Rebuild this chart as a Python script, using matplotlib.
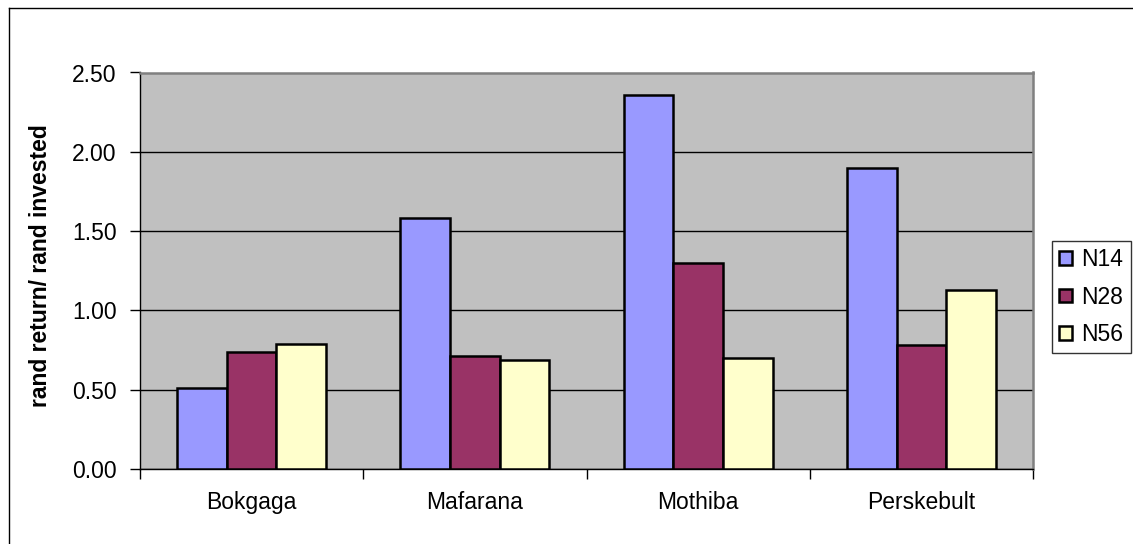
import matplotlib
matplotlib.use("Agg")
import matplotlib.pyplot as plt
import numpy as np
from matplotlib.lines import Line2D
from matplotlib.ticker import FormatStrFormatter

plt.rcParams['font.family'] = ['Liberation Sans', 'DejaVu Sans']

categories = ["Bokgaga", "Mafarana", "Mothiba", "Perskebult"]
series_names = ["N14", "N28", "N56"]
n14 = [0.51, 1.58, 2.36, 1.90]
n28 = [0.74, 0.71, 1.30, 0.78]
n56 = [0.79, 0.69, 0.70, 1.13]
colors = ["#9999FF", "#993366", "#FFFFCC"]
ylabel = "rand return/ rand invested"

W, H = 1133, 544
fig = plt.figure(figsize=(W / 100, H / 100), dpi=100)
ax = fig.add_axes([140 / W, 1 - 469 / H, (1033 - 140) / W, (469 - 72.5) / H])
ax.set_facecolor("#C0C0C0")

x = np.arange(len(categories))
w = 1 / 4.5
for i, (vals, name, c) in enumerate(zip([n14, n28, n56], series_names, colors)):
    ax.bar(x + (i - 1) * w, vals, width=w, color=c, edgecolor="black",
           linewidth=1.8, label=name, zorder=3)

ax.set_xlim(-0.5, len(categories) - 0.5)
ax.set_ylim(0, 2.5)
ax.set_yticks(np.arange(0, 2.51, 0.5))
ax.yaxis.set_major_formatter(FormatStrFormatter("%.2f"))
ax.yaxis.grid(True, color="black", linewidth=1.0, zorder=1)
ax.set_axisbelow(True)

ax.set_xticks(x)
ax.set_xticklabels(categories)
ax.set_xticks(np.arange(-0.5, len(categories)), minor=True)
ax.tick_params(axis="x", which="major", length=0, pad=16, labelsize=16.5)
ax.tick_params(axis="x", which="minor", length=7, width=1, color="black", direction="out")
ax.tick_params(axis="y", which="major", length=7, width=1, direction="out", pad=10, labelsize=16.5)

for s in ["left", "bottom"]:
    ax.spines[s].set_color("black")
    ax.spines[s].set_linewidth(1.0)
for s in ["top", "right"]:
    ax.spines[s].set_color("#808080")
    ax.spines[s].set_linewidth(1.8)

fig.text(41 / W, 1 - 266 / H, ylabel, rotation=90, ha="center", va="center",
         fontsize=16.5, fontweight="bold")

leg = fig.legend(loc="upper left", bbox_to_anchor=(1052 / W, 1 - 241 / H),
                 fontsize=16.5, frameon=True, fancybox=False, shadow=False,
                 handlelength=0.55, handleheight=0.55, handletextpad=0.42,
                 labelspacing=0.62, borderpad=0.32, borderaxespad=0)
leg.get_frame().set_edgecolor("black")
leg.get_frame().set_linewidth(1.0)

# outer chart border (left and top visible)
fig.add_artist(Line2D([8.5 / W, 8.5 / W], [0, 1 - 7.5 / H], transform=fig.transFigure,
                      color="black", linewidth=1.0))
fig.add_artist(Line2D([8.5 / W, 1], [1 - 7.5 / H, 1 - 7.5 / H], transform=fig.transFigure,
                      color="black", linewidth=1.0))

fig.savefig("out.png", dpi=100)
